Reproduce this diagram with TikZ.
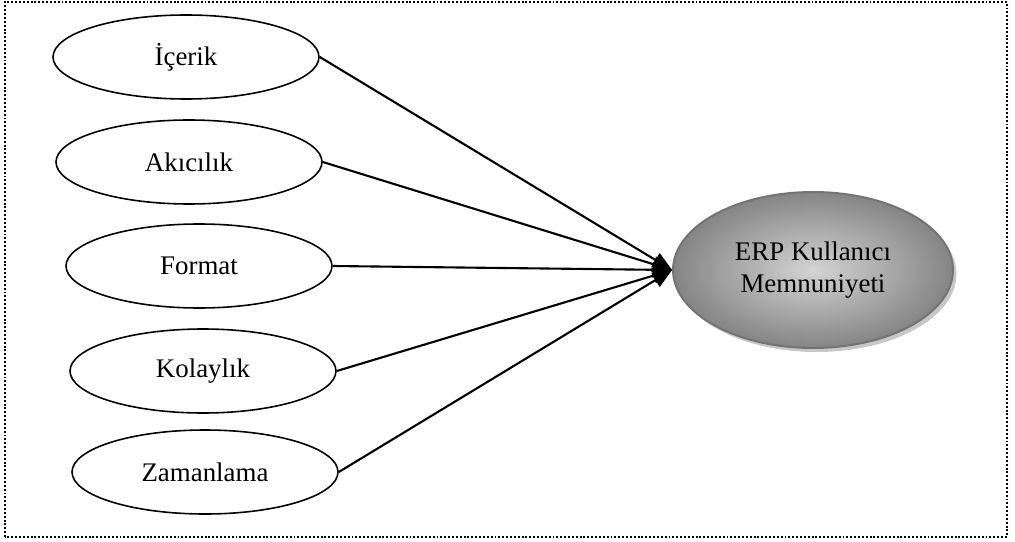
\documentclass[tikz,border=0pt]{standalone}
\usepackage{fontspec}
\setmainfont{Liberation Serif}
\usetikzlibrary{shapes.geometric,arrows.meta,shadows}

\tikzset{
  factor/.style={ellipse, draw, line width=0.9pt, inner sep=0pt,
    minimum width=5.32cm, minimum height=1.68cm},
  outcome/.style={ellipse, draw=black!55, line width=1.1pt, inner sep=0pt,
    minimum width=5.6cm, minimum height=3.12cm, align=center,
    inner color=black!17, outer color=black!48,
    drop shadow={shadow xshift=0.07cm, shadow yshift=-0.08cm,
      fill=black!22, opacity=1}},
  link/.style={line width=1.2pt, -{Triangle[length=11pt, width=9pt]}}
}

\begin{document}
\begin{tikzpicture}[font=\fontsize{15.3}{18}\selectfont]
  \useasboundingbox (0, 0) rectangle (20.3, 10.82);
  \draw[line width=1.1pt, dash pattern=on 1.1pt off 1.1pt]
    (0.1, 0.08) rectangle (20.14, 10.78);

  \node[factor] (icerik)    at (3.72, 9.68) {İçerik};
  \node[factor] (akicilik)  at (3.78, 7.58) {Akıcılık};
  \node[factor] (format)    at (3.98, 5.5)  {Format};
  \node[factor] (kolaylik)  at (4.06, 3.4)  {Kolaylık};
  \node[factor] (zamanlama) at (4.1, 1.38)  {Zamanlama};

  \node[outcome] (erp) at (16.26, 5.42) {ERP Kullanıcı\\Memnuniyeti};

  \foreach \src in {icerik, akicilik, format, kolaylik, zamanlama}
    \draw[link] (\src.east) -- (erp.west);
\end{tikzpicture}
\end{document}
